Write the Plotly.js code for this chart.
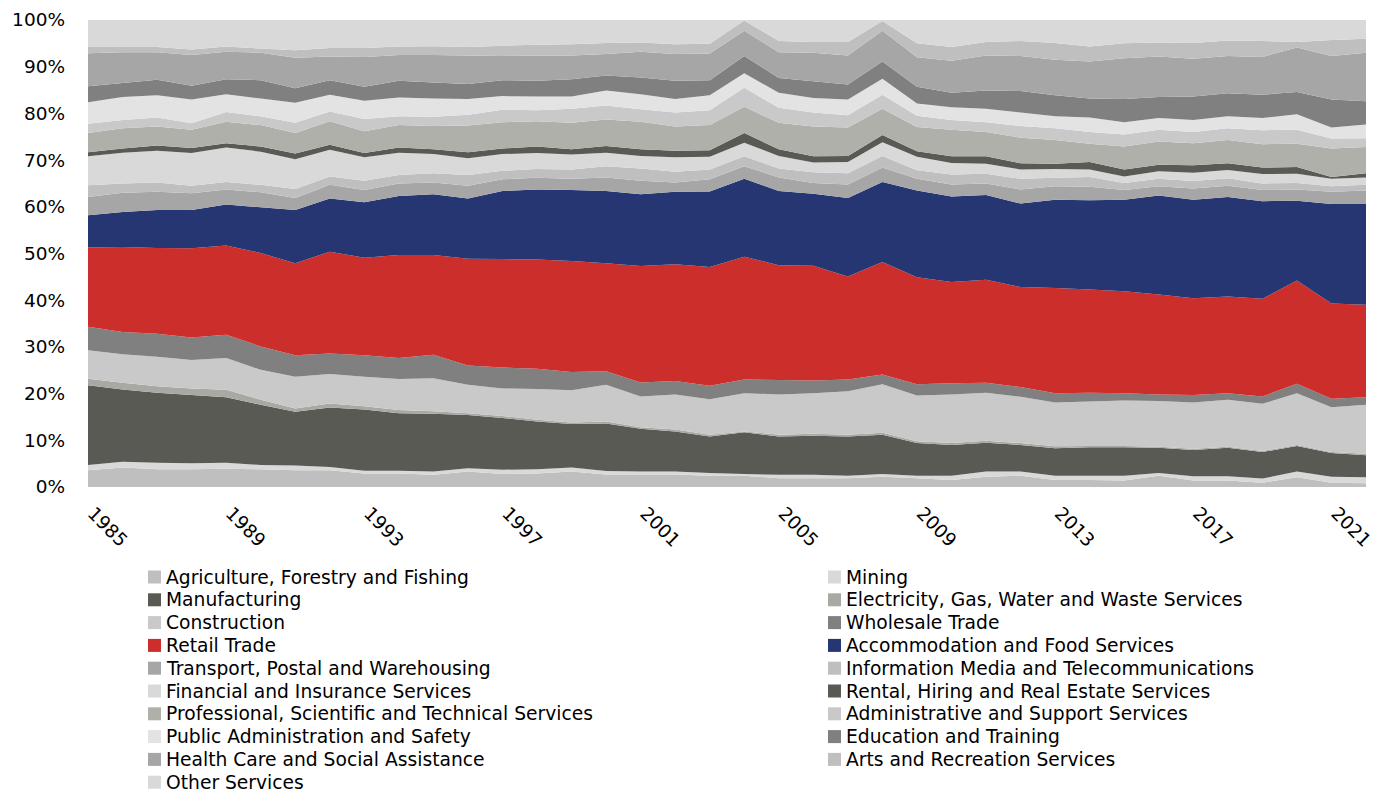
<!DOCTYPE html>
<html>
<head>
<meta charset="utf-8">
<title>Employment share by industry, 1985–2022</title>
<script src="https://cdn.plot.ly/plotly-3.0.1.min.js"></script>
<style>
  html, body { margin: 0; padding: 0; background: #ffffff; }
  #chart { width: 1380px; height: 794px; }
</style>
</head>
<body>
<div id="chart"></div>
<script>
// Years on the horizontal axis
const years = [1985, 1986, 1987, 1988, 1989, 1990, 1991, 1992, 1993, 1994,
               1995, 1996, 1997, 1998, 1999, 2000, 2001, 2002, 2003, 2004,
               2005, 2006, 2007, 2008, 2009, 2010, 2011, 2012, 2013, 2014,
               2015, 2016, 2017, 2018, 2019, 2020, 2021, 2022];

// Tick labels
const tickYears = [1985, 1989, 1993, 1997, 2001, 2005, 2009, 2013, 2017, 2021];
const tickYearLabels = ['1985', '1989', '1993', '1997', '2001', '2005', '2009', '2013', '2017', '2021'];
const pctTicks = [0, 10, 20, 30, 40, 50, 60, 70, 80, 90, 100];
const pctLabels = ['0%', '10%', '20%', '30%', '40%', '50%', '60%', '70%', '80%', '90%', '100%'];

// Industry names (stacking order, bottom to top)
const industries = [
  'Agriculture, Forestry and Fishing',
  'Mining',
  'Manufacturing',
  'Electricity, Gas, Water and Waste Services',
  'Construction',
  'Wholesale Trade',
  'Retail Trade',
  'Accommodation and Food Services',
  'Transport, Postal and Warehousing',
  'Information Media and Telecommunications',
  'Financial and Insurance Services',
  'Rental, Hiring and Real Estate Services',
  'Professional, Scientific and Technical Services',
  'Administrative and Support Services',
  'Public Administration and Safety',
  'Education and Training',
  'Health Care and Social Assistance',
  'Arts and Recreation Services',
  'Other Services'
];

// Share of total (%) per industry, one value per year
const agriculture    = [3.6, 4.2, 3.8, 3.8, 3.9, 3.8, 3.6, 3.6, 2.9, 2.9, 2.6, 3.3, 2.8, 2.9, 3.3, 2.7, 2.7, 2.7, 2.4, 2.4, 1.9, 1.9, 1.9, 2.2, 1.9, 1.5, 2.2, 2.4, 1.5, 1.5, 1.4, 2.4, 1.4, 1.4, 0.9, 2.1, 0.9, 0.8];
const mining         = [1.1, 1.2, 1.4, 1.3, 1.3, 0.9, 1.0, 0.7, 0.6, 0.6, 0.7, 0.7, 0.9, 0.9, 0.9, 0.7, 0.6, 0.6, 0.6, 0.4, 0.7, 0.7, 0.5, 0.6, 0.5, 0.9, 1.1, 0.9, 0.9, 0.9, 1.0, 0.6, 0.9, 0.9, 0.9, 1.2, 1.3, 1.3];
const manufacturing  = [17.1, 15.5, 15.0, 14.6, 14.0, 12.9, 11.5, 12.7, 13.1, 12.3, 12.4, 11.4, 11.1, 10.2, 9.3, 10.2, 9.2, 8.6, 7.8, 8.9, 8.2, 8.4, 8.4, 8.4, 7.0, 6.6, 6.2, 5.7, 5.9, 6.1, 6.1, 5.4, 5.6, 6.1, 5.7, 5.5, 5.1, 4.7];
const utilities      = [1.4, 1.4, 1.4, 1.4, 1.6, 1.1, 0.7, 0.9, 0.7, 0.7, 0.5, 0.4, 0.4, 0.4, 0.3, 0.4, 0.3, 0.4, 0.4, 0.2, 0.4, 0.4, 0.4, 0.4, 0.4, 0.4, 0.4, 0.4, 0.4, 0.3, 0.3, 0.2, 0.3, 0.2, 0.2, 0.2, 0.2, 0.3];
const construction   = [6.1, 6.1, 6.3, 6.1, 6.8, 6.4, 6.8, 6.3, 6.3, 6.6, 7.1, 6.1, 5.9, 6.6, 6.9, 7.9, 6.6, 7.5, 7.6, 8.2, 8.6, 8.7, 9.3, 10.4, 9.8, 10.4, 10.3, 9.9, 9.4, 9.5, 9.7, 9.8, 9.9, 10.1, 10.1, 11.1, 9.6, 10.5];
const wholesale      = [5.0, 4.8, 4.9, 4.8, 5.0, 5.0, 4.6, 4.4, 4.6, 4.5, 5.0, 4.1, 4.5, 4.3, 3.9, 2.9, 3.0, 2.9, 2.9, 2.9, 3.1, 2.7, 2.5, 2.1, 2.4, 2.4, 2.1, 2.1, 2.0, 1.9, 1.6, 1.4, 1.6, 1.4, 1.6, 2.0, 1.8, 1.6];
const retail         = [17.0, 18.2, 18.4, 19.1, 19.1, 20.0, 19.7, 21.8, 20.9, 22.1, 21.4, 22.9, 23.2, 23.4, 23.8, 23.1, 24.9, 25.0, 25.4, 26.3, 24.6, 24.6, 22.1, 24.1, 22.9, 21.7, 22.1, 21.4, 22.5, 22.1, 21.8, 21.4, 20.7, 20.7, 20.9, 22.1, 20.4, 19.8];
const accommodation  = [6.9, 7.5, 8.1, 8.2, 8.8, 9.8, 11.4, 11.4, 11.9, 12.6, 13.0, 12.9, 14.6, 15.0, 15.2, 15.5, 15.4, 15.5, 16.2, 16.7, 15.9, 15.4, 16.8, 17.1, 18.6, 18.3, 18.1, 17.9, 18.9, 19.1, 19.6, 21.2, 21.1, 21.3, 20.9, 17.1, 21.3, 21.6];
const transport      = [3.9, 4.1, 3.9, 3.6, 3.2, 3.2, 2.6, 2.9, 2.6, 2.7, 2.5, 2.7, 2.5, 2.5, 2.4, 2.9, 2.9, 2.0, 2.6, 2.7, 2.9, 2.3, 2.9, 3.1, 2.5, 2.6, 2.5, 3.0, 2.9, 2.9, 2.1, 2.0, 2.4, 2.4, 2.4, 2.4, 2.6, 2.9];
const infoMedia      = [2.5, 2.0, 2.0, 1.6, 1.6, 1.6, 1.9, 1.8, 2.0, 1.8, 2.0, 2.3, 1.8, 1.9, 2.0, 2.4, 2.6, 2.3, 2.1, 2.1, 1.9, 2.3, 2.4, 2.5, 1.8, 2.1, 2.1, 2.3, 1.8, 2.1, 1.5, 1.6, 1.6, 1.6, 1.4, 1.4, 1.2, 1.2];
const financial      = [6.2, 6.6, 6.8, 7.0, 7.4, 7.1, 6.4, 5.7, 5.0, 4.8, 4.1, 3.6, 3.6, 3.4, 3.2, 2.9, 2.7, 3.1, 2.7, 2.9, 2.7, 2.1, 2.4, 2.9, 2.9, 2.5, 2.1, 2.0, 1.9, 1.6, 1.4, 1.6, 1.8, 1.8, 2.0, 2.0, 1.6, 1.6];
const rental         = [0.9, 0.9, 1.1, 1.1, 0.9, 1.1, 1.2, 1.1, 0.9, 1.1, 1.0, 1.3, 1.2, 1.4, 1.1, 1.4, 1.4, 1.4, 1.4, 2.1, 1.4, 1.3, 1.3, 1.6, 1.2, 1.4, 1.6, 1.3, 1.1, 1.6, 1.5, 1.4, 1.6, 1.4, 1.4, 1.4, 0.4, 0.9];
const professional   = [4.1, 4.3, 4.1, 3.9, 4.6, 4.6, 4.4, 5.0, 4.7, 4.8, 5.0, 5.7, 5.6, 5.4, 5.7, 5.7, 5.9, 5.2, 5.4, 5.6, 5.7, 6.4, 6.1, 5.6, 5.2, 5.7, 5.2, 5.5, 5.1, 3.9, 4.9, 5.0, 4.7, 5.0, 5.0, 5.0, 6.1, 5.6];
const administrative = [2.0, 1.8, 1.9, 1.4, 2.1, 1.9, 2.2, 2.1, 2.6, 1.9, 2.0, 2.3, 2.7, 2.4, 3.0, 3.0, 2.7, 3.0, 3.2, 4.1, 3.2, 3.0, 2.6, 3.0, 2.4, 2.1, 2.1, 2.5, 2.5, 2.5, 2.6, 2.5, 2.4, 2.5, 3.0, 3.0, 2.1, 1.9];
const publicAdmin    = [4.6, 4.9, 4.8, 5.1, 3.8, 3.8, 4.3, 3.6, 3.9, 4.0, 3.9, 3.4, 2.9, 2.9, 2.6, 3.2, 3.2, 2.9, 3.2, 3.1, 3.2, 3.1, 3.4, 3.4, 2.6, 2.7, 2.9, 2.9, 2.6, 3.1, 2.6, 2.5, 2.6, 2.6, 2.6, 3.3, 2.4, 2.9];
const education      = [3.4, 3.0, 3.3, 2.9, 3.2, 3.9, 3.1, 3.1, 3.0, 3.6, 3.4, 3.2, 3.4, 3.4, 3.7, 3.2, 3.6, 3.9, 3.2, 3.7, 3.2, 3.6, 3.2, 3.7, 3.6, 3.1, 3.9, 4.6, 4.5, 4.1, 5.0, 4.5, 5.0, 4.9, 5.0, 4.8, 6.0, 5.0];
const health         = [7.1, 6.6, 5.9, 6.6, 5.9, 5.9, 6.5, 5.1, 6.4, 5.5, 5.9, 6.1, 5.2, 5.4, 5.1, 4.6, 5.5, 5.7, 5.7, 5.4, 5.5, 6.1, 6.2, 6.6, 6.3, 6.9, 7.5, 7.5, 7.6, 7.9, 8.7, 8.7, 8.1, 8.0, 8.1, 9.5, 9.3, 10.4];
const arts           = [1.3, 1.1, 1.1, 1.2, 1.1, 0.9, 1.6, 1.8, 1.9, 1.8, 1.9, 1.8, 2.2, 2.3, 2.4, 2.4, 2.0, 2.1, 2.1, 2.2, 2.4, 2.3, 2.9, 2.1, 3.0, 2.9, 2.9, 3.2, 3.6, 3.2, 3.2, 3.0, 3.4, 3.3, 3.4, 1.2, 3.4, 3.0];
const otherServices  = [5.8, 5.8, 5.8, 6.3, 5.7, 6.1, 6.5, 6.0, 6.0, 5.7, 5.6, 5.8, 5.5, 5.3, 5.2, 4.9, 4.8, 5.2, 5.1, 0.1, 4.5, 4.7, 4.7, 0.2, 5.0, 5.8, 4.7, 4.5, 4.9, 5.7, 5.0, 4.8, 4.9, 4.4, 4.5, 4.7, 4.3, 4.0];

const series = [agriculture, mining, manufacturing, utilities, construction, wholesale,
                retail, accommodation, transport, infoMedia, financial, rental,
                professional, administrative, publicAdmin, education, health, arts,
                otherServices];

// Fill colours: grey scale with the two highlighted industries
const colors = ['#bfbfbf', '#d9d9d9', '#5a5a55', '#a9a9a4', '#c9c9c9', '#808080',
                '#cc2e2b', '#253673', '#a6a6a6', '#bfbfbf', '#d9d9d9', '#5a5a55',
                '#b0b0ab', '#c9c9c9', '#e3e3e3', '#808080', '#a6a6a6', '#bfbfbf',
                '#d9d9d9'];

// Stacked areas
const traces = series.map(function (vals, i) {
  return {
    type: 'scatter',
    x: years,
    y: vals,
    name: industries[i],
    stackgroup: 'shares',
    mode: 'none',
    fillcolor: colors[i],
    line: { width: 0 },
    showlegend: false,
    hoverinfo: 'skip'
  };
});

// Plot box in pixels (used to place the key below the axis)
const W = 1380, H = 794;
const M = { l: 88, r: 14, t: 20, b: 307 };
const plotW = W - M.l - M.r;
const plotH = H - M.t - M.b;
const toPaperX = function (px) { return (px - M.l) / plotW; };
const toPaperY = function (py) { return (H - M.b - py) / plotH; };

// Two-column key, filled row by row: square swatch followed by the name
const keyColumnsX = [148, 828];
const keyFirstRowY = 577;
const keyRowStep = 22.8;
const keySwatch = 13;
const keyTextGap = 4;

const annotations = [];
const shapes = [];
industries.forEach(function (name, i) {
  const col = i % 2;
  const row = Math.floor(i / 2);
  const cx = keyColumnsX[col];
  const cy = keyFirstRowY + row * keyRowStep;
  shapes.push({
    type: 'rect',
    xref: 'paper', yref: 'paper',
    x0: toPaperX(cx), x1: toPaperX(cx + keySwatch),
    y0: toPaperY(cy + keySwatch / 2), y1: toPaperY(cy - keySwatch / 2),
    fillcolor: colors[i],
    line: { width: 0 },
    layer: 'above'
  });
  annotations.push({
    xref: 'paper', yref: 'paper',
    x: toPaperX(cx + keySwatch + keyTextGap),
    y: toPaperY(cy),
    xanchor: 'left', yanchor: 'middle',
    showarrow: false,
    borderpad: 0,
    text: name,
    font: { family: 'DejaVu Sans, sans-serif', size: 18.7, color: '#000000' }
  });
});

const layout = {
  width: W,
  height: H,
  margin: { l: M.l, r: M.r, t: M.t, b: M.b, autoexpand: false },
  paper_bgcolor: '#ffffff',
  plot_bgcolor: '#ffffff',
  font: { family: 'DejaVu Sans, sans-serif', color: '#000000' },
  hovermode: false,
  showlegend: false,
  xaxis: {
    range: [1985, 2022],
    tickmode: 'array',
    tickvals: tickYears,
    ticktext: tickYearLabels,
    tickangle: 45,
    ticks: '',
    ticklabelstandoff: 11,
    ticklabelshift: 5,
    tickfont: { family: 'DejaVu Sans, sans-serif', size: 18.5, color: '#000000' },
    showgrid: false,
    zeroline: false,
    showline: false
  },
  yaxis: {
    range: [0, 100],
    tickmode: 'array',
    tickvals: pctTicks,
    ticktext: pctLabels,
    ticks: '',
    ticklabelstandoff: 22,
    tickfont: { family: 'DejaVu Sans, sans-serif', size: 18.5, color: '#000000' },
    showgrid: false,
    zeroline: false,
    showline: false
  },
  shapes: shapes,
  annotations: annotations
};

Plotly.newPlot('chart', traces, layout, { staticPlot: true, displayModeBar: false });
</script>
</body>
</html>
